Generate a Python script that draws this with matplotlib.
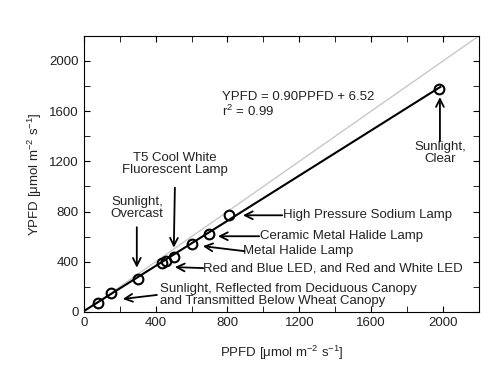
import numpy as np
import matplotlib.pyplot as plt

plt.rcParams['font.family'] = ['Liberation Sans', 'DejaVu Sans']
plt.rcParams['mathtext.fontset'] = 'custom'
plt.rcParams['mathtext.rm'] = 'Liberation Sans'
plt.rcParams['mathtext.it'] = 'Liberation Sans'

# measured light sources
ppfd = [80, 154, 299, 436, 460, 501, 603, 696, 808, 1978]
ypfd = [74, 148, 262, 386, 405, 434, 545, 617, 770, 1780]

slope, intercept = 0.90, 6.52
fit_x = [0, 1985]
one_x = [0, 2200]

x_ticks = np.arange(0, 2201, 400)
y_ticks = np.arange(0, 2201, 400)

# (text, text xy, ha, va, arrow tail, arrow head)
notes = [
    ('Sunlight,\nClear', (1983, 1365), 'center', 'top', (1983, 1360), (1983, 1712)),
    ('T5 Cool White\nFluorescent Lamp', (507, 1275), 'center', 'top', (507, 990), (501, 512)),
    ('Sunlight,\nOvercast', (295, 925), 'center', 'top', (295, 675), (295, 352)),
    ('High Pressure Sodium Lamp', (1110, 770), 'left', 'center', (1105, 770), (886, 770)),
    ('Ceramic Metal Halide Lamp', (982, 603), 'left', 'center', (977, 603), (747, 603)),
    ('Metal Halide Lamp', (888, 484), 'left', 'center', (895, 484), (663, 524)),
    ('Red and Blue LED, and Red and White LED', (665, 349), 'left', 'center', (665, 349), (507, 357)),
    ('Sunlight, Reflected from Deciduous Canopy\nand Transmitted Below Wheat Canopy',
     (423, 131), 'left', 'center', (407, 135), (217, 103)),
]

ink = '#222222'

fig = plt.figure(figsize=(5.02, 3.86), dpi=100)
ax = fig.add_axes([0.167, 0.192, 0.787, 0.715])

ax.plot(one_x, one_x, color='#c8c8c8', lw=1.0, zorder=1)
fx = np.array(fit_x)
ax.plot(fx, slope * fx + intercept, color='black', lw=1.5, zorder=2)
ax.plot(ppfd, ypfd, 'o', mfc='none', mec='black', mew=1.5, ms=7, zorder=3)

for txt, pos, ha, va, tail, head in notes:
    ax.text(pos[0], pos[1], txt, ha=ha, va=va, fontsize=9.5, linespacing=1.0, color=ink)
    ax.annotate('', xy=head, xytext=tail,
                arrowprops=dict(arrowstyle='->', color='black', lw=1.3,
                                shrinkA=0, shrinkB=0, mutation_scale=14))

ax.text(769, 1762, 'YPFD = 0.90PPFD + 6.52\nr$^2$ = 0.99', ha='left', va='top',
        fontsize=9.5, linespacing=1.1, color=ink)

ax.set_xlim(0, 2200)
ax.set_ylim(0, 2200)
ax.set_xticks(x_ticks)
ax.set_yticks(y_ticks)
ax.set_xticks(np.arange(0, 2201, 200), minor=True)
ax.set_yticks(np.arange(0, 2201, 200), minor=True)
ax.tick_params(which='both', direction='in', top=True, right=True, labelsize=9.5,
               labelcolor=ink)
ax.tick_params(which='major', length=4)
ax.tick_params(which='minor', length=4)
ax.set_xlabel('PPFD [$\\mu$mol m$^{-2}$ s$^{-1}$]', fontsize=9.5, labelpad=11, color=ink)
ax.set_ylabel('YPFD [$\\mu$mol m$^{-2}$ s$^{-1}$]', fontsize=9.5, labelpad=4, color=ink)

fig.savefig('out.png', dpi=100)
